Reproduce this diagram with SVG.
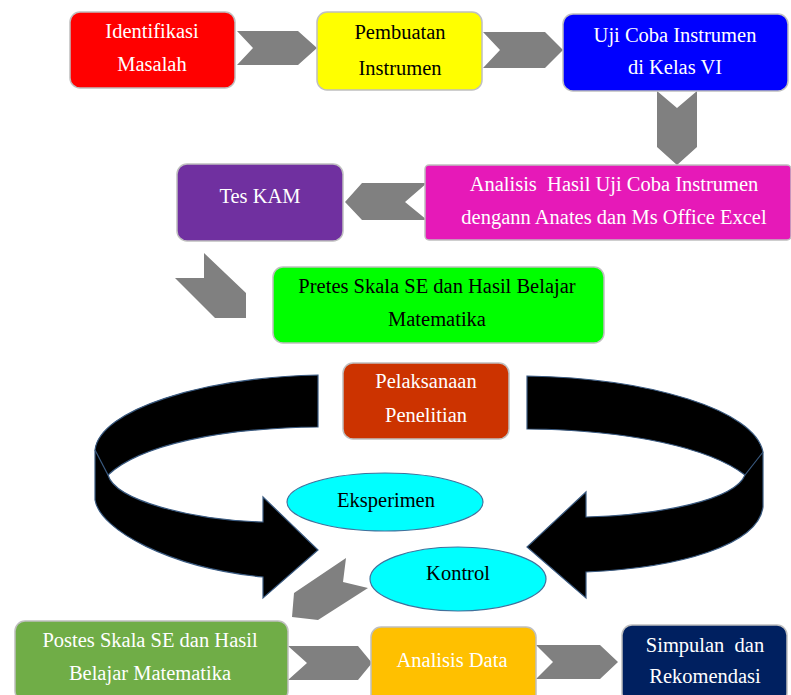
<svg xmlns="http://www.w3.org/2000/svg" width="791" height="695" viewBox="0 0 791 695">
<style>
.box{stroke:#BFBFBF;stroke-width:1.5}
.t{font-family:'Liberation Serif','DejaVu Serif',serif;font-size:20.5px;text-anchor:middle;white-space:pre}
.w{fill:#FFFFFF}
.k{fill:#000000}
.chev{fill:#808080}
.curve{fill:#000000;stroke:#3A5A80;stroke-width:1.2}
.ell{fill:#00FFFF;stroke:#41719C;stroke-width:1.2}
</style>
<rect width="791" height="695" fill="#FFFFFF"/>
<g id="connectors">
<polygon class="chev" points="237,31 298,31 317,48 298,65 237,65 253,48"/>
<polygon class="chev" points="483,32 545,32 563,50 545,68 483,68 500,50"/>
<polygon class="chev" points="657,91 677,108 697,91 697,147 677,165 657,147"/>
<polygon class="chev" points="345,202 362,183 427,183 405,202 427,220 362,220"/>
<polygon class="chev" points="204,253 246,293 246,318 215,318 175,278 204,278"/>
<polygon class="chev" points="346,558 343,582 368,588 318,620 292,617 294,593"/>
<polygon class="chev" points="288,646 358,646 372,663 358,680 288,680 307,663"/>
<polygon class="chev" points="536,645 600,645 618,662 600,679 536,679 553,662"/>
<path class="curve" d="M318,375 C200,378 100,410 95,450 L95,500 C100,530 170,568 263,577 L263,598 L318,550 L263,497 L263,522 C190,520 115,500 108,475 C140,445 220,428 318,427 Z"/>
<path d="M95,450 L108,475" stroke="#3A5A80" stroke-width="1.2" fill="none"/>
<path class="curve" d="M527,376 C650,378 755,410 763,452 L763,507 C758,545 680,568 586,572 L586,598 L527,547 L586,492 L586,517 C660,515 735,500 745,475 C710,448 630,430 527,429 Z"/>
<path d="M763,452 L745,475" stroke="#3A5A80" stroke-width="1.2" fill="none"/>
</g>
<g id="identifikasi">
<rect class="box" x="70" y="12" width="165" height="76" rx="10" fill="#FF0000"/>
<text class="t w" x="152" y="38">Identifikasi</text>
<text class="t w" x="152" y="71">Masalah</text>
</g>
<g id="pembuatan">
<rect class="box" x="317" y="12" width="165" height="78" rx="10" fill="#FFFF00"/>
<text class="t k" x="400" y="39">Pembuatan</text>
<text class="t k" x="400" y="75">Instrumen</text>
</g>
<g id="ujicoba">
<rect class="box" x="563" y="14" width="225" height="77" rx="10" fill="#0000FF"/>
<text class="t w" x="675" y="42">Uji Coba Instrumen</text>
<text class="t w" x="675" y="74">di Kelas VI</text>
</g>
<g id="analisis-hasil">
<rect class="box" x="425" y="165" width="366" height="75" rx="4" fill="#E619B8"/>
<text class="t w" x="614" y="191">Analisis  Hasil Uji Coba Instrumen</text>
<text class="t w" x="614" y="224">dengann Anates dan Ms Office Excel</text>
</g>
<g id="teskam">
<rect class="box" x="177" y="164" width="166" height="77" rx="10" fill="#7030A0"/>
<text class="t w" x="260" y="203">Tes KAM</text>
</g>
<g id="pretes">
<rect class="box" x="273" y="267" width="331" height="76" rx="10" fill="#00FF00"/>
<text class="t k" x="437" y="293">Pretes Skala SE dan Hasil Belajar</text>
<text class="t k" x="437" y="326">Matematika</text>
</g>
<g id="pelaksanaan">
<rect class="box" x="343" y="363" width="166" height="76" rx="10" fill="#CC3300"/>
<text class="t w" x="426" y="388">Pelaksanaan</text>
<text class="t w" x="426" y="422">Penelitian</text>
</g>
<g id="eksperimen">
<ellipse class="ell" cx="385" cy="502" rx="98" ry="29"/>
<text class="t k" x="386" y="507">Eksperimen</text>
</g>
<g id="kontrol">
<ellipse class="ell" cx="458" cy="579" rx="88" ry="32"/>
<text class="t k" x="458" y="580">Kontrol</text>
</g>
<g id="postes">
<rect class="box" x="15" y="621" width="273" height="80" rx="10" fill="#70AD47"/>
<text class="t w" x="150" y="647">Postes Skala SE dan Hasil</text>
<text class="t w" x="150" y="680">Belajar Matematika</text>
</g>
<g id="analisis-data">
<rect class="box" x="371" y="627" width="165" height="80" rx="10" fill="#FFC000"/>
<text class="t w" x="452" y="667">Analisis Data</text>
</g>
<g id="simpulan">
<rect class="box" x="622" y="625" width="165" height="78" rx="10" fill="#002060"/>
<text class="t w" x="705" y="652">Simpulan  dan</text>
<text class="t w" x="705" y="683">Rekomendasi</text>
</g>
</svg>
